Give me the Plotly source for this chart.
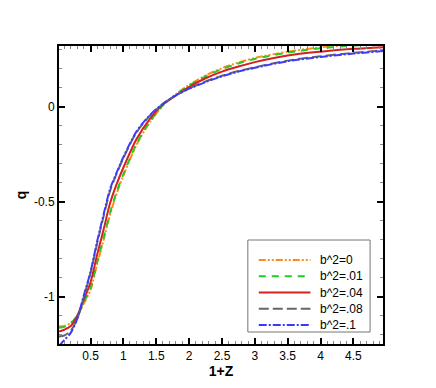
import plotly.graph_objects as go

# 1+Z sample points
z = [0.02, 0.1, 0.2, 0.3, 0.4, 0.5, 0.6, 0.7, 0.8, 0.9, 1.0, 1.2, 1.4, 1.6,
     1.8, 2.0, 2.25, 2.5, 2.75, 3.0, 3.5, 4.0, 4.5, 4.95]

# q for each b^2
q_b0 = [-1.158, -1.155, -1.138, -1.10, -1.035, -0.965, -0.83, -0.70, -0.565, -0.455, -0.362, -0.20,
        -0.083, 0.006, 0.066, 0.115, 0.165, 0.203, 0.233, 0.257, 0.29, 0.313, 0.327, 0.335]
q_b01 = [-1.165, -1.16, -1.14, -1.10, -1.03, -0.955, -0.82, -0.69, -0.555, -0.445, -0.355, -0.195,
         -0.08, 0.007, 0.065, 0.112, 0.16, 0.198, 0.228, 0.252, 0.285, 0.308, 0.322, 0.33]
q_b04 = [-1.185, -1.175, -1.155, -1.10, -1.015, -0.925, -0.78, -0.645, -0.505, -0.405, -0.32, -0.17,
         -0.065, 0.012, 0.06, 0.105, 0.15, 0.185, 0.212, 0.235, 0.27, 0.29, 0.305, 0.314]
q_b08 = [-1.21, -1.205, -1.18, -1.115, -1.0, -0.875, -0.72, -0.575, -0.44, -0.35, -0.27, -0.135,
         -0.048, 0.014, 0.06, 0.096, 0.133, 0.163, 0.188, 0.208, 0.243, 0.266, 0.284, 0.297]
q_b1 = [-1.26, -1.23, -1.19, -1.115, -0.99, -0.87, -0.71, -0.565, -0.43, -0.345, -0.265, -0.13,
        -0.045, 0.015, 0.06, 0.095, 0.13, 0.16, 0.185, 0.205, 0.24, 0.262, 0.28, 0.293]

names = ["b^2=0", "b^2=.01", "b^2=.04", "b^2=.08", "b^2=.1"]
series = [q_b0, q_b01, q_b04, q_b08, q_b1]
colors = ["#ff8c1a", "#22cc22", "#d42020", "#666666", "#3a3aff"]
dashes = ["7px,2px,2px,2px,2px,2px", "7px,6px", "solid", "10px,4px", "8px,2px,2px,2px"]

xticks = [0.5, 1, 1.5, 2, 2.5, 3, 3.5, 4, 4.5]
yticks = [-1, -0.5, 0]
ylabels = ["-1", "-0.5", "0"]

# plot area is 326 x 298 px; helpers to place legend parts in paper units
PW, PH = 326, 298
def px_x(v):
    return v / PW
def px_y(v):
    return v / PH

fig = go.Figure()
for name, q, c, d in zip(names, series, colors, dashes):
    fig.add_trace(go.Scatter(x=z, y=q, mode="lines", name=name, showlegend=False,
                             line=dict(color=c, width=2, dash=d, shape="spline", smoothing=0.8)))

axis_common = dict(showline=True, linecolor="black", linewidth=2, mirror="allticks",
                   ticks="inside", ticklen=6, tickwidth=2, tickcolor="black",
                   showgrid=False, zeroline=False,
                   tickfont=dict(family="Liberation Sans", size=12, color="black"),
                   minor=dict(ticks="inside", ticklen=3, tickwidth=1, tickcolor="#888888", dtick=0.1))

fig.update_xaxes(range=[0.02, 4.95], tickvals=xticks,
                 title=dict(text="<b>1+Z</b>", font=dict(family="Liberation Sans", size=14, color="black"),
                            standoff=2),
                 **axis_common)
fig.update_yaxes(range=[-1.25, 0.32], tickvals=yticks, ticktext=ylabels,
                 title=dict(text="<b>q</b>", font=dict(family="Liberation Sans", size=14, color="black"),
                            standoff=4),
                 **axis_common)

# legend drawn by hand (box, line samples, labels) so row spacing matches
shapes = [dict(type="rect", xref="paper", yref="paper",
               x0=px_x(190), x1=px_x(313), y0=px_y(12), y1=px_y(104),
               line=dict(color="#777777", width=1), fillcolor="white", layer="above")]
annotations = []
row0, gap = 84, 16.25  # px above the x axis for first row, row spacing
for i, (name, c, d) in enumerate(zip(names, colors, dashes)):
    yy = px_y(row0 - i * gap)
    shapes.append(dict(type="line", xref="paper", yref="paper",
                       x0=px_x(201), x1=px_x(253), y0=yy, y1=yy,
                       line=dict(color=c, width=2, dash=d), layer="above"))
    annotations.append(dict(xref="paper", yref="paper", x=px_x(261), y=yy, text=name,
                            xanchor="left", yanchor="middle", showarrow=False,
                            font=dict(family="Liberation Sans", size=12, color="black")))

# page has an 8px body margin, so the figure is 8px smaller and margins shifted
fig.update_layout(
    width=428, height=380,
    margin=dict(l=49, r=53, t=38, b=44),
    paper_bgcolor="white", plot_bgcolor="white",
    font=dict(family="Liberation Sans", size=12, color="black"),
    showlegend=False,
    shapes=shapes,
    annotations=annotations,
)

fig.write_html("out.html")
